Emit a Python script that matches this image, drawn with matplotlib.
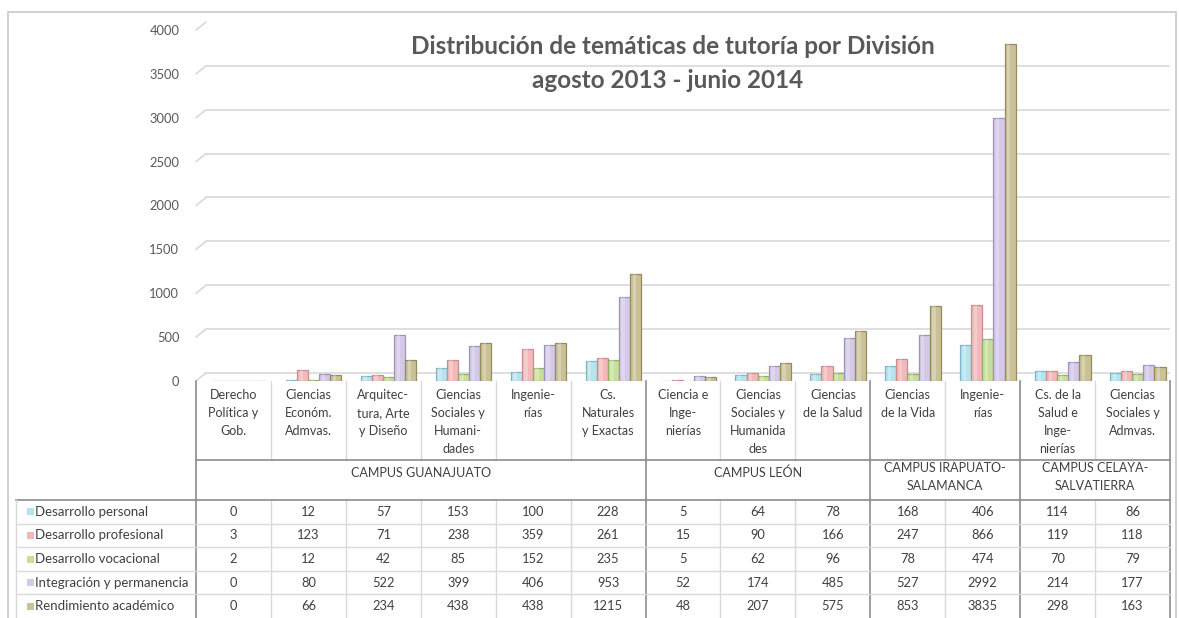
import matplotlib
matplotlib.use("Agg")
import matplotlib.pyplot as plt
import matplotlib.transforms as mtransforms
import numpy as np

plt.rcParams['font.family'] = ['Lato', 'DejaVu Sans']

categories = ["Derecho\nPolítica y\nGob.", "Ciencias\nEconóm.\nAdmvas.", "Arquitec-\ntura, Arte\ny Diseño",
              "Ciencias\nSociales y\nHumani-\ndades", "Ingenie-\nrías", "Cs.\nNaturales\ny Exactas",
              "Ciencia e\nInge-\nnierías", "Ciencias\nSociales y\nHumanida\ndes", "Ciencias\nde la Salud",
              "Ciencias\nde la Vida", "Ingenie-\nrías",
              "Cs. de la\nSalud e\nInge-\nnierías", "Ciencias\nSociales y\nAdmvas."]
campuses = ["CAMPUS GUANAJUATO", "CAMPUS LEÓN", "CAMPUS IRAPUATO-\nSALAMANCA", "CAMPUS CELAYA-\nSALVATIERRA"]
campus_sizes = [6, 3, 2, 2]

series_names = ["Desarrollo personal", "Desarrollo profesional", "Desarrollo vocacional",
                "Integración y permanencia", "Rendimiento académico"]
personal = [0, 12, 57, 153, 100, 228, 5, 64, 78, 168, 406, 114, 86]
profesional = [3, 123, 71, 238, 359, 261, 15, 90, 166, 247, 866, 119, 118]
vocacional = [2, 12, 42, 85, 152, 235, 5, 62, 96, 78, 474, 70, 79]
integracion = [0, 80, 522, 399, 406, 953, 52, 174, 485, 527, 2992, 214, 177]
rendimiento = [0, 66, 234, 438, 438, 1215, 48, 207, 575, 853, 3835, 298, 163]
series = [personal, profesional, vocacional, integracion, rendimiento]
yticks = [0, 500, 1000, 1500, 2000, 2500, 3000, 3500, 4000]

faces = ["#b6e3ee", "#f2b9bb", "#c6df9d", "#d4c9e7", "#cac197"]
edges = ["#7fb5c6", "#c98d8f", "#93ae66", "#9e92ba", "#958b5e"]

W, H = 1179, 618
fig = plt.figure(figsize=(W / 100, H / 100), dpi=100)

x0, x1 = 196, 1170
y_floor, y_top = 381, 30
ncat = len(categories)
colw = (x1 - x0) / ncat

ax = fig.add_axes([x0 / W, (H - y_floor) / H, (x1 - x0) / W, (y_floor - y_top) / H])
ax.set_xlim(-0.5, ncat - 0.5)
ax.set_ylim(0, 4000)
for s in ax.spines.values():
    s.set_visible(False)
ax.set_xticks([])
ax.set_yticks(yticks)
ax.set_yticklabels([str(t) for t in yticks], color="#595959", fontsize=9.3)
ax.tick_params(axis='y', length=0, pad=12)
ax.patch.set_alpha(0)

off = mtransforms.ScaledTranslation(10 / 100, 8 / 100, fig.dpi_scale_trans)
btrans = ax.get_yaxis_transform()
for t in yticks:
    ax.plot([0, 1 - 10 / (x1 - x0)], [t, t], transform=btrans + off, color="#d9d9d9", lw=1.2, zorder=0)
    ax.annotate("", xy=(0, t), xycoords=btrans, xytext=(10, 8), textcoords='offset pixels',
                arrowprops=dict(arrowstyle='-', color="#d9d9d9", lw=1.2, shrinkA=0, shrinkB=0))

bw = 0.148
xs = np.arange(ncat)
for k, vals in enumerate(series):
    pos = xs + 0.07 + (k - 2) * bw
    ax.bar(pos, vals, width=bw, color=faces[k], edgecolor=edges[k], linewidth=0.9, zorder=3)
    ax.bar(pos - bw * 0.12, vals, width=bw * 0.3, color="white", alpha=0.25, linewidth=0, zorder=4)

ov = fig.add_axes([0, 0, 1, 1])
ov.set_xlim(0, W)
ov.set_ylim(H, 0)
ov.axis('off')
ov.patch.set_alpha(0)

ov.plot([8, 8, 1176, 1176], [H + 5, 12, 12, H + 5], color="#c8c8c8", lw=1.2)

ov.text(673, 47, "Distribución de temáticas de tutoría por División", ha='center', va='center',
        fontsize=17.5, fontweight='bold', color="#595959")
ov.text(668, 80, "agosto 2013 - junio 2014", ha='center', va='center',
        fontsize=17.5, fontweight='bold', color="#595959")

light = "#d9d9d9"
dark = "#8c8c8c"
txtc = "#404040"
y_cat_bot, y_camp_bot = 460, 500
row_h = (H - y_camp_bot) / 5

for i, lab in enumerate(categories):
    cx = x0 + colw * (i + 0.5)
    ov.text(cx, 389, lab, ha='center', va='top', fontsize=9, color=txtc, linespacing=1.6)
    for r in range(5):
        ov.text(cx, y_camp_bot + row_h * (r + 0.5), str(series[r][i]), ha='center', va='center',
                fontsize=9.3, color=txtc)

bounds = np.cumsum([0] + campus_sizes)
campus_edges = set(bounds.tolist())
for j in range(1, ncat):
    xx = x0 + colw * j
    if j in campus_edges:
        ov.plot([xx, xx], [y_floor, H], color=dark, lw=1.2)
    else:
        ov.plot([xx, xx], [y_floor, y_cat_bot], color=light, lw=1)
        ov.plot([xx, xx], [y_camp_bot, H], color=light, lw=1)
ov.plot([x0, x0], [y_floor, H], color=dark, lw=1.2)
ov.plot([x1, x1], [y_floor, H], color=dark, lw=1.2)

for c, lab in enumerate(campuses):
    cx = x0 + colw * (bounds[c] + bounds[c + 1]) / 2
    cy = 473 if "\n" not in lab else 477
    ov.text(cx, cy, lab, ha='center', va='center', fontsize=9,
            color=txtc, linespacing=1.5)

ov.plot([x0, x1], [y_cat_bot, y_cat_bot], color=dark, lw=1.2)
ov.plot([16, x1], [y_camp_bot, y_camp_bot], color=dark, lw=1.2)
for r in range(1, 5):
    yy = y_camp_bot + row_h * r
    ov.plot([16, x1], [yy, yy], color=light, lw=1)
ov.plot([16, 16], [y_camp_bot, H], color=light, lw=1)

for r, name in enumerate(series_names):
    yy = y_camp_bot + row_h * (r + 0.5)
    ov.add_patch(plt.Rectangle((27, yy - 3.5), 7, 7, facecolor=faces[r], edgecolor='none'))
    ov.text(35, yy, name, ha='left', va='center', fontsize=9.5, color=txtc)

fig.savefig("out.png", dpi=100)
